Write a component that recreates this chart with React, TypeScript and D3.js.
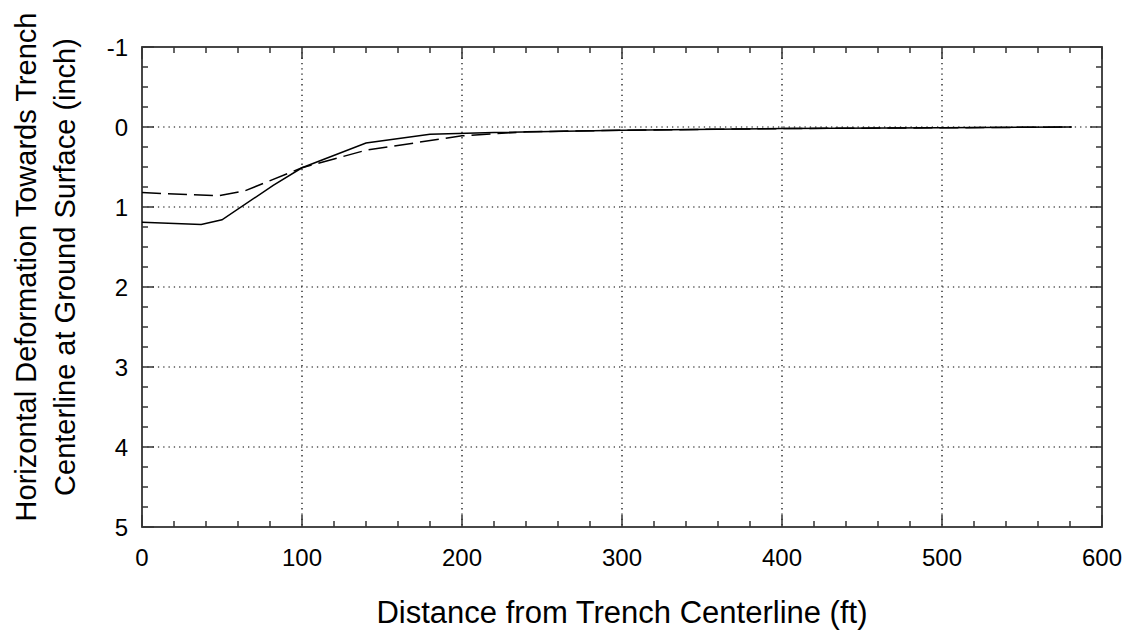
import React from "react";
import * as d3 from "d3";

const solidX = [0, 37, 50, 82, 100, 140, 180, 220, 300, 400, 500, 581];
const solidY = [1.19, 1.22, 1.16, 0.73, 0.51, 0.2, 0.09, 0.07, 0.04, 0.02, 0.01, 0.0];
const dashX = [0, 48, 64, 100, 120, 140, 200, 240, 300, 400, 500, 581];
const dashY = [0.82, 0.86, 0.8, 0.51, 0.4, 0.29, 0.11, 0.06, 0.04, 0.02, 0.01, 0.0];
const xTicks = [0, 100, 200, 300, 400, 500, 600];
const yTicks = [-1, 0, 1, 2, 3, 4, 5];
const xMinor = d3.range(0, 601, 20);
const yMinor = d3.range(-1, 5.001, 0.25);

const W = 1136, H = 635;
const L = 142, R = 1102, T = 47, B = 527;

export default function App() {
  const x = d3.scaleLinear().domain([0, 600]).range([L, R]);
  const y = d3.scaleLinear().domain([-1, 5]).range([T, B]);
  const line = d3.line<[number, number]>().x(d => x(d[0])).y(d => y(d[1]));
  const solid = solidX.map((v, i) => [v, solidY[i]] as [number, number]);
  const dashed = dashX.map((v, i) => [v, dashY[i]] as [number, number]);
  const font = "'Liberation Sans', Arial, sans-serif";
  const axisColor = "#333";
  return (
    <svg width={W} height={H} style={{ position: "absolute", left: 0, top: 0, background: "#fff" }}
      fontFamily={font}>
      {xTicks.filter(t => t > 0 && t < 600).map(t => (
        <line key={"gx" + t} x1={x(t)} x2={x(t)} y1={T} y2={B} stroke="#000" strokeWidth={1.2} strokeDasharray="1.3,4" />
      ))}
      {yTicks.filter(t => t > -1 && t < 5).map(t => (
        <line key={"gy" + t} x1={L} x2={R} y1={y(t)} y2={y(t)} stroke="#000" strokeWidth={1.2} strokeDasharray="1.3,4" />
      ))}
      {xMinor.map(t => {
        const major = t % 100 === 0;
        const len = major ? 12 : 6;
        return (
          <g key={"xm" + t}>
            <line x1={x(t)} x2={x(t)} y1={B} y2={B - len} stroke={axisColor} strokeWidth={1.5} />
            <line x1={x(t)} x2={x(t)} y1={T} y2={T + len} stroke={axisColor} strokeWidth={1.5} />
          </g>
        );
      })}
      {yMinor.map(t => {
        const major = Math.abs(t - Math.round(t)) < 1e-6;
        const len = major ? 12 : 6;
        return (
          <g key={"ym" + t}>
            <line x1={L} x2={L + len} y1={y(t)} y2={y(t)} stroke={axisColor} strokeWidth={1.5} />
            <line x1={R} x2={R - len} y1={y(t)} y2={y(t)} stroke={axisColor} strokeWidth={1.5} />
          </g>
        );
      })}
      <rect x={L} y={T} width={R - L} height={B - T} fill="none" stroke={axisColor} strokeWidth={1.8} />
      <path d={line(dashed) || ""} fill="none" stroke="#000" strokeWidth={1.5} strokeDasharray="19,7" />
      <path d={line(solid) || ""} fill="none" stroke="#000" strokeWidth={1.5} />
      {xTicks.map(t => (
        <text key={"xl" + t} x={x(t)} y={566} fontSize={24} textAnchor="middle" fill="#000">{t}</text>
      ))}
      {yTicks.map(t => (
        <text key={"yl" + t} x={128} y={y(t) + 8.5} fontSize={24} textAnchor="end" fill="#000">{t}</text>
      ))}
      <text x={(L + R) / 2} y={623} fontSize={31} textAnchor="middle" fill="#000">Distance from Trench Centerline (ft)</text>
      <text transform={`translate(36,267) rotate(-90)`} fontSize={29} textAnchor="middle" fill="#000">Horizontal Deformation Towards Trench</text>
      <text transform={`translate(75,267) rotate(-90)`} fontSize={29} textAnchor="middle" fill="#000">Centerline at Ground Surface (inch)</text>
    </svg>
  );
}
